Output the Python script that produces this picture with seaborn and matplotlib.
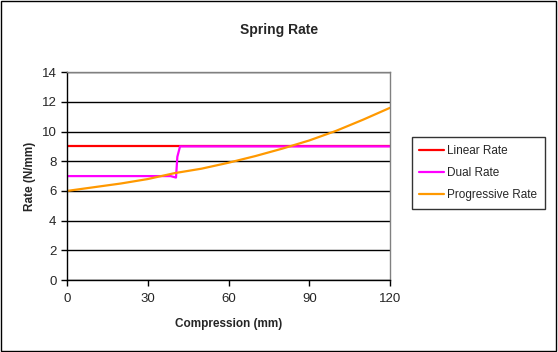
import pandas as pd
import numpy as np
import matplotlib.pyplot as plt
import seaborn as sns
from matplotlib.patches import Rectangle

# Data
linear_x = [0, 120]
linear_y = [9, 9]

dual_x = [0, 38.5, 40.5, 41.0, 42.0, 120]
dual_y = [7.0, 7.0, 6.9, 8.3, 9.0, 9.0]

prog_x = [0, 10, 20, 30, 40, 50, 60, 70, 80, 90, 100, 110, 120]
prog_y = [6.0, 6.25, 6.5, 6.8, 7.2, 7.5, 7.9, 8.35, 8.85, 9.4, 10.05, 10.8, 11.6]

series_names = ["Linear Rate", "Dual Rate", "Progressive Rate"]
colors = ["#FF0000", "#FF00FF", "#FF9900"]

frames = []
for name, xs, ys in zip(series_names, [linear_x, dual_x, prog_x], [linear_y, dual_y, prog_y]):
    frames.append(pd.DataFrame({"Compression": xs, "Rate": ys, "Series": name}))
data = pd.concat(frames, ignore_index=True)

sns.set_style("white")
plt.rcParams["font.family"] = ["Liberation Sans", "DejaVu Sans"]

fig = plt.figure(figsize=(5.58, 3.52), dpi=100)
ax = fig.add_axes([0.120, 0.2045, 0.579, 0.5905])

sns.lineplot(data=data, x="Compression", y="Rate", hue="Series", hue_order=series_names,
             palette=colors, linewidth=1.6, sort=False, estimator=None, ax=ax, legend=False)

ax.set_xlim(0, 120)
ax.set_ylim(0, 14)
ax.set_xticks(range(0, 121, 30))
ax.set_yticks(range(0, 15, 2))
ax.yaxis.grid(True, color="black", linewidth=1)
ax.xaxis.grid(False)
ax.set_axisbelow(True)
for side in ["top", "right"]:
    ax.spines[side].set_color("#808080")
for side in ["left", "bottom"]:
    ax.spines[side].set_color("black")
for s in ax.spines.values():
    s.set_linewidth(1)
ax.tick_params(axis="both", direction="out", length=4, width=1, color="black",
               labelsize=9.5, bottom=True, left=True)
ax.tick_params(axis="x", pad=5)
ax.set_xlabel("Compression (mm)", fontsize=8.5, fontweight="bold", labelpad=10)
ax.set_ylabel("Rate (N/mm)", fontsize=8.5, fontweight="bold", labelpad=4)
fig.suptitle("Spring Rate", x=0.5, y=0.935, fontsize=10, fontweight="bold")

handles = [plt.Line2D([], [], color=c, linewidth=1.6) for c in colors]
leg = fig.legend(handles, series_names, loc="upper left", bbox_to_anchor=(0.738, 0.61),
                 frameon=True, fancybox=False, shadow=False, fontsize=8.5,
                 handlelength=2.1, handletextpad=0.25, labelspacing=0.85, borderpad=0.65,
                 borderaxespad=0)
leg.get_frame().set_edgecolor("black")
leg.get_frame().set_linewidth(1)

# outer chart border
fig.patches.append(Rectangle((0.002, 0.003), 0.995, 0.993, transform=fig.transFigure,
                             fill=False, edgecolor="black", linewidth=1))

fig.savefig("out.png", dpi=100)
